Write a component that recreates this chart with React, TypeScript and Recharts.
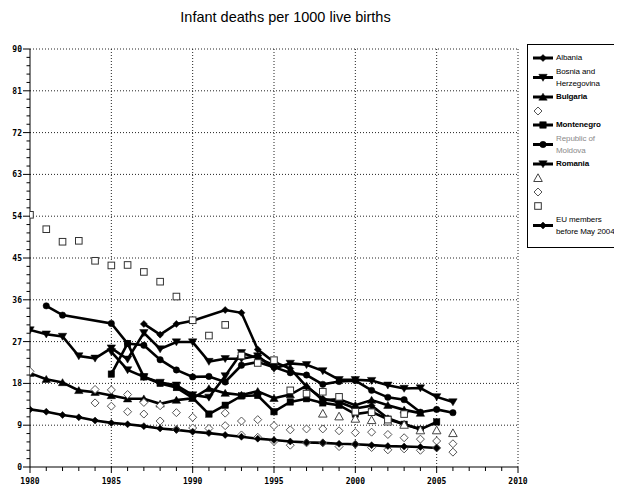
import React from 'react';
import { LineChart, Line, XAxis, YAxis, ReferenceLine } from 'recharts';

// ---------- data ----------
const years = [
  1980, 1981, 1982, 1983, 1984, 1985, 1986, 1987, 1988, 1989,
  1990, 1991, 1992, 1993, 1994, 1995, 1996, 1997, 1998, 1999,
  2000, 2001, 2002, 2003, 2004, 2005, 2006,
];

const albania = [
  null, null, null, null, null, null, null, 30.8, 28.5, 30.8,
  31.5, null, 33.8, 33.2, 25.3, 22.6, 21.2, 17.3, 14.7, 14.0,
  12.6, 13.2, 10.5, 9.2, 8.2, null, null,
];
const bosnia = [
  null, null, null, null, null, 24.8, 20.9, 19.4, 18.2, 17.6,
  15.5, 15.0, 19.6, 24.6, 23.4, 21.9, null, null, null, null,
  null, null, null, null, null, null, null,
];
const bulgaria = [
  20.2, 18.9, 18.2, 16.5, 16.1, 15.4, 14.7, 14.7, 13.6, 14.4,
  14.8, 16.9, 15.9, 15.5, 16.3, 14.8, 15.6, 17.5, 14.4, 14.6,
  13.3, 14.4, 13.3, 12.3, 11.6, null, null,
];
const croatia = [
  20.6, null, null, null, 16.7, 16.6, 15.6, 13.9, 13.2, 11.7,
  10.7, null, 11.6, 9.9, 10.2, 8.9, 8.0, 8.2, 8.2, 7.8,
  7.4, 7.5, 7.0, 6.3, 6.0, 5.6, 5.0,
];
const montenegro = [
  null, null, null, null, null, 20.0, 26.6, 19.4, 18.0, 17.1,
  14.9, 11.4, 13.3, 15.3, 15.4, 11.9, 14.0, 14.7, 13.8, 13.3,
  11.4, 11.9, 10.3, 9.2, 8.1, 9.7, null,
];
const moldova = [
  null, 34.7, 32.7, null, null, 30.9, 26.6, 26.2, 23.1, 20.9,
  19.4, 19.5, 18.3, 21.9, 22.6, 21.5, 20.3, 19.8, 17.8, 18.4,
  18.6, 16.5, 15.0, 14.5, 11.8, 12.4, 11.7,
];
const romania = [
  29.5, 28.6, 28.1, 23.9, 23.4, 25.6, 23.2, 28.9, 25.4, 26.9,
  26.9, 22.7, 23.3, 23.3, 23.9, 21.2, 22.3, 22.0, 20.7, 18.8,
  18.8, 18.6, 17.6, 16.9, 17.0, 15.1, 14.0,
];
const serbia = [
  null, null, null, null, null, null, null, null, null, null,
  null, null, null, null, null, null, null, null, 11.5, 10.9,
  10.4, 10.1, 9.8, 9.1, 7.9, 7.9, 7.3,
];
const slovenia = [
  null, null, null, null, 13.8, 13.1, 11.9, 11.4, 9.9, 8.1,
  8.4, 8.3, 8.9, 6.9, 6.4, 5.5, 4.7, 5.2, 5.2, 4.4,
  4.9, 4.2, 3.7, 3.9, 3.6, 4.1, 3.2,
];
const macedonia = [
  54.3, 51.2, 48.5, 48.7, 44.4, 43.4, 43.5, 42.0, 39.9, 36.7,
  31.6, 28.3, 30.6, 24.0, 22.4, 23.0, 16.5, 15.8, 16.2, 15.1,
  11.9, 11.8, 10.2, 11.4, null, null, null,
];
const euBefore2004 = [
  12.4, 11.9, 11.2, 10.7, 10.0, 9.5, 9.2, 8.8, 8.3, 8.0,
  7.6, 7.3, 6.9, 6.5, 6.1, 5.8, 5.5, 5.3, 5.2, 5.0,
  4.9, 4.7, 4.5, 4.4, 4.3, 4.1, null,
];

const yLabels = [0, 9, 18, 27, 36, 45, 54, 63, 72, 81, 90];
const xLabels = [1980, 1985, 1990, 1995, 2000, 2005, 2010];

const title = 'Infant deaths per 1000 live births';

// ---------- series configuration ----------
type Marker = 'diamond' | 'circle' | 'triDown' | 'triUp' | 'square' | 'oDiamond' | 'oTriangle' | 'oSquare';

const seriesDefs: { id: string; values: (number | null)[]; legend: string[]; marker: Marker; line: boolean; weight?: string; color?: string }[] = [
  { id: 'Albania', values: albania, legend: ['Albania'], marker: 'diamond', line: true },
  { id: 'Bosnia and Herzegovina', values: bosnia, legend: ['Bosnia and', 'Herzegovina'], marker: 'triDown', line: true },
  { id: 'Bulgaria', values: bulgaria, legend: ['Bulgaria'], marker: 'triUp', line: true, weight: 'bold' },
  { id: 'Croatia', values: croatia, legend: [], marker: 'oDiamond', line: false },
  { id: 'Montenegro', values: montenegro, legend: ['Montenegro'], marker: 'square', line: true, weight: 'bold' },
  { id: 'Republic of Moldova', values: moldova, legend: ['Republic of', 'Moldova'], marker: 'circle', line: true, color: '#8a8a8a' },
  { id: 'Romania', values: romania, legend: ['Romania'], marker: 'triDown', line: true, weight: 'bold' },
  { id: 'Serbia', values: serbia, legend: [], marker: 'oTriangle', line: false },
  { id: 'Slovenia', values: slovenia, legend: [], marker: 'oDiamond', line: false },
  { id: 'TFYR Macedonia', values: macedonia, legend: [], marker: 'oSquare', line: false },
  { id: 'EU members before May 2004', values: euBefore2004, legend: ['EU members', 'before May 2004'], marker: 'diamond', line: true },
];

const xTicks = Array.from({ length: 31 }, (_, i) => 1980 + i);
const yTicks = Array.from({ length: 51 }, (_, i) => Math.round(i * 18) / 10);

// ---------- marker drawing ----------
function markerShape(m: Marker, cx: number, cy: number, key?: string) {
  const open = { fill: '#fff', stroke: '#444', strokeWidth: 1 };
  const solid = { fill: '#000', stroke: '#000', strokeWidth: 0.5 };
  switch (m) {
    case 'diamond':
      return <path key={key} d={`M${cx},${cy - 3.5}L${cx + 3.5},${cy}L${cx},${cy + 3.5}L${cx - 3.5},${cy}Z`} {...solid} />;
    case 'circle':
      return <circle key={key} cx={cx} cy={cy} r={3.2} {...solid} />;
    case 'triDown':
      return <path key={key} d={`M${cx - 4.2},${cy - 3.2}L${cx + 4.2},${cy - 3.2}L${cx},${cy + 3.8}Z`} {...solid} />;
    case 'triUp':
      return <path key={key} d={`M${cx - 4.2},${cy + 3.2}L${cx + 4.2},${cy + 3.2}L${cx},${cy - 3.8}Z`} {...solid} />;
    case 'square':
      return <rect key={key} x={cx - 3.2} y={cy - 3.2} width={6.4} height={6.4} {...solid} />;
    case 'oDiamond':
      return <path key={key} d={`M${cx},${cy - 4}L${cx + 4},${cy}L${cx},${cy + 4}L${cx - 4},${cy}Z`} {...open} stroke="#555" />;
    case 'oTriangle':
      return <path key={key} d={`M${cx - 4.3},${cy + 3.5}L${cx + 4.3},${cy + 3.5}L${cx},${cy - 4.2}Z`} {...open} />;
    case 'oSquare':
      return <rect key={key} x={cx - 3.3} y={cy - 3.3} width={6.6} height={6.6} {...open} stroke="#333" />;
  }
  return null;
}

const makeDot = (m: Marker) => (props: any) => {
  const { cx, cy, index } = props;
  if (cx == null || cy == null) return <g key={`e-${index}`} />;
  return markerShape(m, cx, cy, `d-${index}`);
};

// ---------- axis ticks ----------
const tickFont = '"DejaVu Sans Mono", monospace';

const XTick = (props: any) => {
  const { x, y, payload } = props;
  const v = payload.value;
  const major = xLabels.includes(v);
  return (
    <g>
      <line x1={x} x2={x} y1={y} y2={y + (major ? 6 : 4)} stroke="#000" strokeWidth={1} />
      {major && (
        <text x={x} y={y + 16.5} textAnchor="middle" fontSize={8} fontWeight="bold" fontFamily={tickFont} fill="#000">
          {v}
        </text>
      )}
    </g>
  );
};

const YTick = (props: any) => {
  const { x, y, payload } = props;
  const v = payload.value;
  const lbl = yLabels.find((l) => Math.abs(l - v) < 1e-6);
  const major = lbl !== undefined;
  return (
    <g>
      <line x1={x - (major ? 7 : 3.5)} x2={x} y1={y} y2={y} stroke="#000" strokeWidth={1} />
      {major && (
        <text x={x - 8} y={y + 3} textAnchor="end" fontSize={8} fontWeight="bold" fontFamily={tickFont} fill="#000">
          {lbl}
        </text>
      )}
    </g>
  );
};

// ---------- legend ----------
const LegendBox = () => (
  <div
    style={{
      position: 'absolute',
      left: 519,
      top: 36,
      width: 91,
      height: 196,
      border: '1px solid #000',
      background: '#fff',
      boxSizing: 'content-box',
      paddingTop: 6,
      fontFamily: '"Liberation Sans", Arial, sans-serif',
      fontSize: 8,
      overflow: 'hidden',
    }}
  >
    {seriesDefs.map((s) => {
      const h = s.legend.length > 1 ? 25 : 14;
      return (
        <div key={s.id} style={{ position: 'relative', height: h, display: 'flex', alignItems: 'center' }}>
          <svg width={28} height={h} style={{ flex: '0 0 28px' }}>
            {s.line && <line x1={5} x2={25} y1={h / 2} y2={h / 2} stroke="#000" strokeWidth={3} />}
            {markerShape(s.marker, s.line ? 15 : 10, h / 2)}
          </svg>
          <div style={{ lineHeight: '12px', color: s.color || '#000', fontWeight: (s.weight as any) || 'normal', whiteSpace: 'nowrap', letterSpacing: -0.1 }}>
            {s.legend.map((t, i) => (
              <div key={i}>{t}</div>
            ))}
          </div>
        </div>
      );
    })}
  </div>
);

// ---------- chart ----------
export default function App() {
  return (
    <div style={{ position: 'relative', width: 606, height: 478, background: '#fff' }}>
      <div
        style={{
          position: 'absolute',
          left: 0,
          top: 1,
          width: 555,
          textAlign: 'center',
          fontFamily: '"Liberation Sans", Arial, sans-serif',
          fontSize: 14.5,
          lineHeight: '17px',
          color: '#000',
        }}
      >
        {title}
      </div>
      <LineChart width={606} height={478} margin={{ top: 41, right: 96, left: 0, bottom: 0 }}>
        <XAxis
          dataKey="year"
          type="number"
          domain={[1980, 2010]}
          ticks={xTicks}
          interval={0}
          tickSize={0}
          tickMargin={0}
          tickLine={false}
          axisLine={{ stroke: '#000', strokeWidth: 1 }}
          tick={<XTick />}
          height={19}
          allowDataOverflow
        />
        <YAxis
          type="number"
          domain={[0, 90]}
          ticks={yTicks}
          interval={0}
          tickSize={0}
          tickMargin={0}
          tickLine={false}
          axisLine={{ stroke: '#000', strokeWidth: 1 }}
          tick={<YTick />}
          width={22}
          allowDataOverflow
        />
        {yLabels.filter((v) => v > 0).map((v) => (
          <ReferenceLine key={`gy${v}`} y={v} stroke="#222" strokeDasharray="1 2" strokeWidth={1} />
        ))}
        {xLabels.filter((v) => v > 1980).map((v) => (
          <ReferenceLine key={`gx${v}`} x={v} stroke="#222" strokeDasharray="1 2" strokeWidth={1} />
        ))}
        {seriesDefs.map((s) => (
          <Line
            key={s.id}
            name={s.id}
            data={years
              .map((yr, i) => ({ year: yr, value: s.values[i] }))
              .filter((d) => d.value !== null)}
            dataKey="value"
            type="linear"
            stroke={s.line ? '#000' : 'none'}
            strokeWidth={s.line ? 2.6 : 0}
            dot={makeDot(s.marker)}
            activeDot={false}
            isAnimationActive={false}
            connectNulls
          />
        ))}
      </LineChart>
      <LegendBox />
    </div>
  );
}
